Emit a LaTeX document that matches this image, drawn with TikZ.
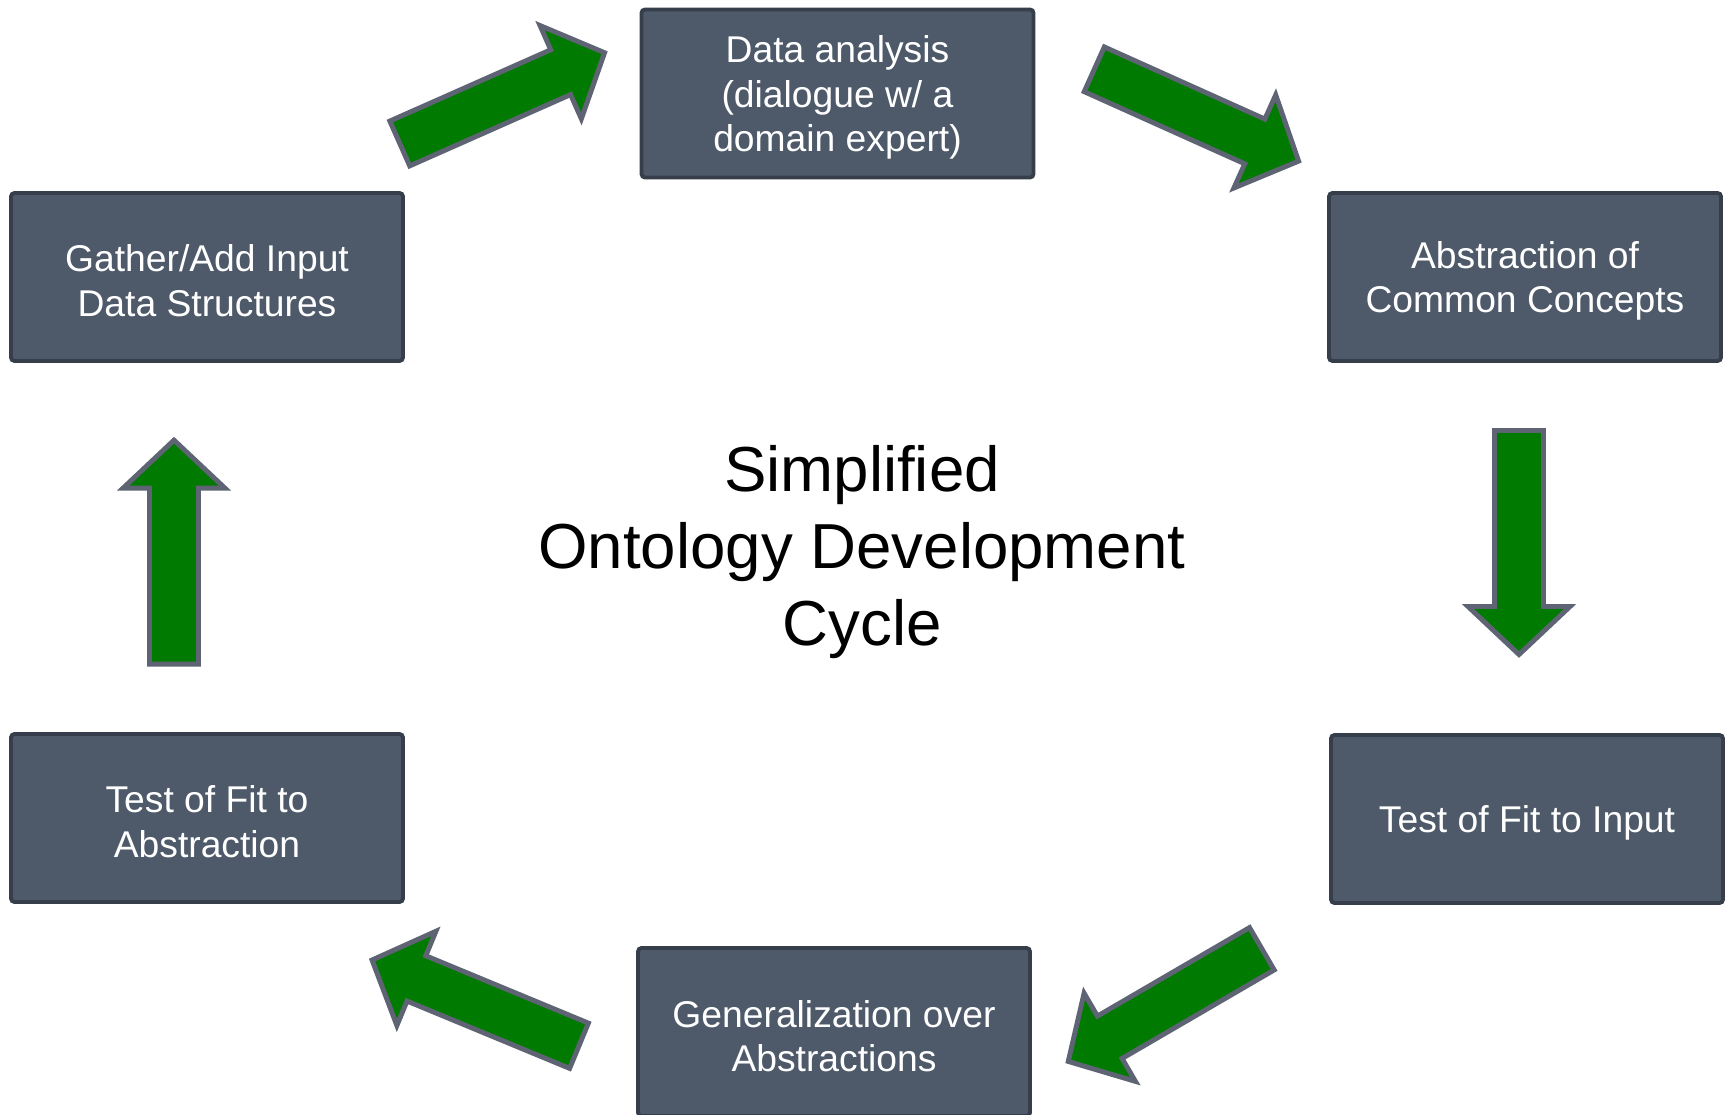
\documentclass[tikz,border=0pt]{standalone}
\usepackage{fontspec}
\setmainfont{Liberation Sans}
\definecolor{stagefill}{RGB}{78,90,106}
\definecolor{stageline}{RGB}{53,62,74}
\definecolor{flowfill}{RGB}{0,122,0}
\definecolor{flowline}{RGB}{94,100,115}
\tikzset{
	stage/.style={draw=stageline, line width=1.1pt, fill=stagefill, rounded corners=1pt,
		minimum width=3.92cm, minimum height=1.68cm, inner sep=0pt},
	stagetext/.style={yshift=-0.04cm, inner sep=0pt, align=center, text=white,
		font=\fontsize{10.6}{12.7}\selectfont},
	flow/.style={draw=flowline, line width=1.4pt, fill=flowfill, line join=miter}
}
\def\blockarrow[#1](#2)(#3){\draw[#1,shift={(#2)},rotate=#3] (0.025,-0.245) -- (1.785,-0.245) -- (1.785,-0.51) -- (2.265,0) -- (1.785,0.51) -- (1.785,0.245) -- (0.025,0.245) -- cycle;}

\begin{document}
\begin{tikzpicture}
		%%%%% START %%%%%
		\useasboundingbox (0, 0) rectangle (17.32, 11.14);
		
		\node[stage] (data) at (8.375, 10.205) {};
		\node[stagetext] (data-t) at (data) {Data analysis\\(dialogue w/ a\\domain expert)};
		
		\node[stage] (abstract) at (15.25, 8.37) {};
		\node[stagetext] (abstract-t) at (abstract) {Abstraction of\\Common Concepts};
		
		\node[stage] (fitinput) at (15.27, 2.95) {};
		\node[stagetext] (fitinput-t) at (fitinput) {Test of Fit to Input};
		
		\node[stage] (general) at (8.34, 0.82) {};
		\node[stagetext] (general-t) at (general) {Generalization over\\Abstractions};
		
		\node[stage] (fitabstract) at (2.07, 2.96) {};
		\node[stagetext] (fitabstract-t) at (fitabstract) {Test of Fit to\\Abstraction};
		
		\node[stage] (gather) at (2.07, 8.37) {};
		\node[stagetext] (gather-t) at (gather) {Gather/Add Input\\Data Structures};
		
		\node[align=center, font=\fontsize{18.1}{21.9}\selectfont] (title) at (8.62, 5.62) {Simplified\\Ontology Development\\Cycle};
		
		\blockarrow[flow](3.975, 9.695)(23.9);
		\blockarrow[flow](10.92, 10.457)(-24.2);
		\blockarrow[flow](15.19, 6.86)(-90);
		\blockarrow[flow](12.64, 1.665)(210.2);
		\blockarrow[flow](5.813, 0.673)(157.5);
		\blockarrow[flow](1.74, 4.473)(90);
		%%%%% END %%%%%
\end{tikzpicture}
\end{document}
